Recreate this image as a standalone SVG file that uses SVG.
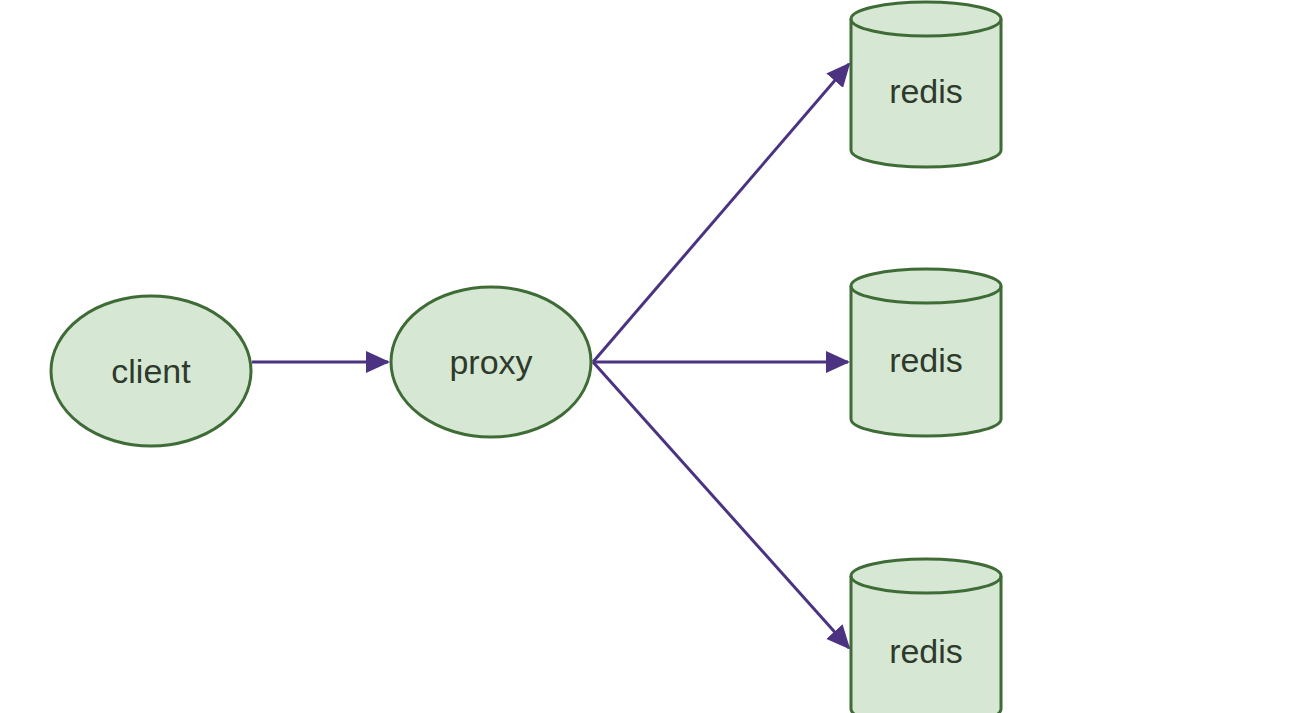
<svg xmlns="http://www.w3.org/2000/svg" width="1292" height="713" viewBox="0 0 1292 713">
<style>
.node{fill:#d6e8d4;stroke:#3f6b37;stroke-width:3}
.lbl{font-family:"Liberation Sans",Arial,sans-serif;font-size:34px;fill:#2e3a2c;text-anchor:middle;dominant-baseline:central}
.edge{stroke:#4b3382;stroke-width:3;fill:none;marker-end:url(#ah)}
</style>
<defs>
<marker id="ah" viewBox="0 0 24 22" refX="22" refY="11" markerWidth="24" markerHeight="22" markerUnits="userSpaceOnUse" orient="auto">
<path d="M0,0 L24,11 L0,22 Z" fill="#4b3382"/>
</marker>
</defs>
<rect width="1292" height="713" fill="#ffffff"/>
<g id="connectors">
<line class="edge" x1="252" y1="362" x2="388" y2="362"/>
<line class="edge" x1="593" y1="362" x2="849" y2="64"/>
<line class="edge" x1="593" y1="362" x2="848" y2="362"/>
<line class="edge" x1="593" y1="362" x2="849" y2="648"/>
</g>
<g id="client">
<ellipse class="node" cx="151" cy="371" rx="100" ry="75"/>
<text class="lbl" x="151" y="371">client</text>
</g>
<g id="proxy">
<ellipse class="node" cx="491" cy="362" rx="100" ry="75"/>
<text class="lbl" x="491" y="362">proxy</text>
</g>
<g id="redis1">
<path class="node" d="M851,19 A75,17 0 0 1 1001,19 L1001,150 A75,17 0 0 1 851,150 Z"/>
<path class="node" style="fill:none" d="M851,19 A75,17 0 0 0 1001,19"/>
<text class="lbl" x="926" y="91">redis</text>
</g>
<g id="redis2">
<path class="node" d="M851,286 A75,17 0 0 1 1001,286 L1001,419 A75,17 0 0 1 851,419 Z"/>
<path class="node" style="fill:none" d="M851,286 A75,17 0 0 0 1001,286"/>
<text class="lbl" x="926" y="360">redis</text>
</g>
<g id="redis3">
<path class="node" d="M851,576 A75,17 0 0 1 1001,576 L1001,709 A75,17 0 0 1 851,709 Z"/>
<path class="node" style="fill:none" d="M851,576 A75,17 0 0 0 1001,576"/>
<text class="lbl" x="926" y="651">redis</text>
</g>
</svg>
